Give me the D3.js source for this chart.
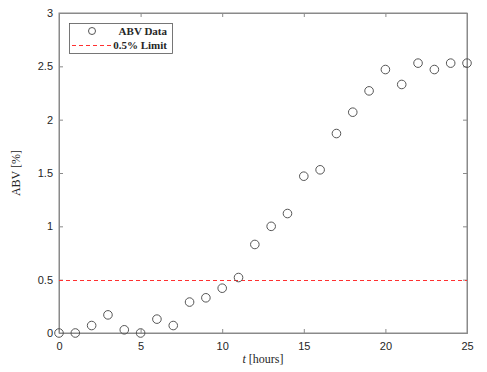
<!DOCTYPE html>
<html>
<head>
<meta charset="utf-8">
<script src="https://cdn.jsdelivr.net/npm/d3@7"></script>
<style>
  body { margin: 0; background: #fff; }
  .tick text { font-family: "Liberation Sans", Arial, sans-serif; font-size: 11px; fill: #262626; }
  .serif { font-family: "Liberation Serif", "Times New Roman", serif; fill: #262626; }
</style>
</head>
<body>
<div id="chart"></div>
<script>
// hours since start
const hours = [0, 1, 2, 3, 4, 5, 6, 7, 8, 9, 10, 11, 12, 13, 14, 15, 16, 17, 18, 19, 20, 21, 22, 23, 24, 25];
// measured ABV in percent
const abv = [0, 0, 0.07, 0.17, 0.03, 0, 0.13, 0.07, 0.29, 0.33, 0.42, 0.52, 0.83, 1.0, 1.12,
  1.47, 1.53, 1.87, 2.07, 2.27, 2.47, 2.33, 2.53, 2.47, 2.53, 2.53];
const limit = 0.5;
const xTicks = [0, 5, 10, 15, 20, 25];
const yTicks = [0, 0.5, 1, 1.5, 2, 2.5, 3];

const width = 487;
const height = 372;
const margin = { top: 13, right: 20, bottom: 39, left: 59 };

const svg = d3.select('#chart')
  .append('svg')
  .attr('width', width)
  .attr('height', height);

const x = d3.scaleLinear().domain([0, 25]).range([margin.left, width - margin.right]);
const y = d3.scaleLinear().domain([0, 3]).range([height - margin.bottom, margin.top]);

const axisColor = '#8a8a8a';
const red = '#ff3030';

// box around plot area
svg.append('rect')
  .attr('x', x(0)).attr('y', y(3))
  .attr('width', x(25) - x(0)).attr('height', y(0) - y(3))
  .attr('fill', 'none').attr('stroke', axisColor).attr('stroke-width', 1);

svg.append('g')
  .attr('transform', `translate(0,${y(0)})`)
  .call(d3.axisBottom(x).tickValues(xTicks).tickSize(-4).tickPadding(9).tickFormat(d3.format('')));
svg.append('g')
  .attr('transform', `translate(${x(0)},0)`)
  .call(d3.axisLeft(y).tickValues(yTicks).tickSize(-4).tickPadding(6).tickFormat(d3.format('')));
// mirrored ticks on top and right
svg.append('g')
  .attr('transform', `translate(0,${y(3)})`)
  .call(d3.axisTop(x).tickValues(xTicks).tickSize(-4).tickFormat(''));
svg.append('g')
  .attr('transform', `translate(${x(25)},0)`)
  .call(d3.axisRight(y).tickValues(yTicks).tickSize(-4).tickFormat(''));

svg.selectAll('.domain').attr('stroke', axisColor);
svg.selectAll('.tick line').attr('stroke', axisColor);

// limit line
svg.append('line')
  .attr('x1', x(0)).attr('x2', x(25))
  .attr('y1', Math.round(y(limit)) + 0.5).attr('y2', Math.round(y(limit)) + 0.5)
  .attr('stroke', red).attr('stroke-width', 1)
  .attr('stroke-dasharray', '4,3');

// data points
svg.append('g')
  .selectAll('circle')
  .data(hours.map((h, i) => ({ h, v: abv[i] })))
  .join('circle')
  .attr('cx', (d) => x(d.h))
  .attr('cy', (d) => y(d.v))
  .attr('r', 4.3)
  .attr('fill', 'none')
  .attr('stroke', '#555')
  .attr('stroke-width', 1);

// axis labels
const xl = svg.append('text')
  .attr('class', 'serif')
  .attr('x', (x(0) + x(25)) / 2)
  .attr('y', 363)
  .attr('text-anchor', 'middle')
  .attr('font-size', 12);
xl.append('tspan').attr('font-style', 'italic').text('t');
xl.append('tspan').text(' [hours]');

svg.append('text')
  .attr('class', 'serif')
  .attr('transform', `translate(20,${(y(0) + y(3)) / 2}) rotate(-90)`)
  .attr('text-anchor', 'middle')
  .attr('font-size', 12)
  .text('ABV [%]');

// legend
const legend = svg.append('g');
legend.append('rect')
  .attr('x', 69.5).attr('y', 23.5)
  .attr('width', 103).attr('height', 30)
  .attr('fill', '#fff').attr('stroke', '#555').attr('stroke-width', 0.8);
legend.append('circle')
  .attr('cx', 92).attr('cy', 31)
  .attr('r', 3.5)
  .attr('fill', 'none').attr('stroke', '#555');
legend.append('line')
  .attr('x1', 72).attr('x2', 111)
  .attr('y1', 45.5).attr('y2', 45.5)
  .attr('stroke', red).attr('stroke-dasharray', '4,3');
legend.append('text')
  .attr('class', 'serif')
  .attr('x', 167).attr('y', 35)
  .attr('text-anchor', 'end')
  .attr('font-size', 11)
  .attr('font-weight', 600)
  .attr('fill', '#333')
  .text('ABV Data');
legend.append('text')
  .attr('class', 'serif')
  .attr('x', 167).attr('y', 49)
  .attr('text-anchor', 'end')
  .attr('font-size', 11)
  .attr('font-weight', 600)
  .attr('fill', '#333')
  .text('0.5% Limit');
</script>
</body>
</html>
